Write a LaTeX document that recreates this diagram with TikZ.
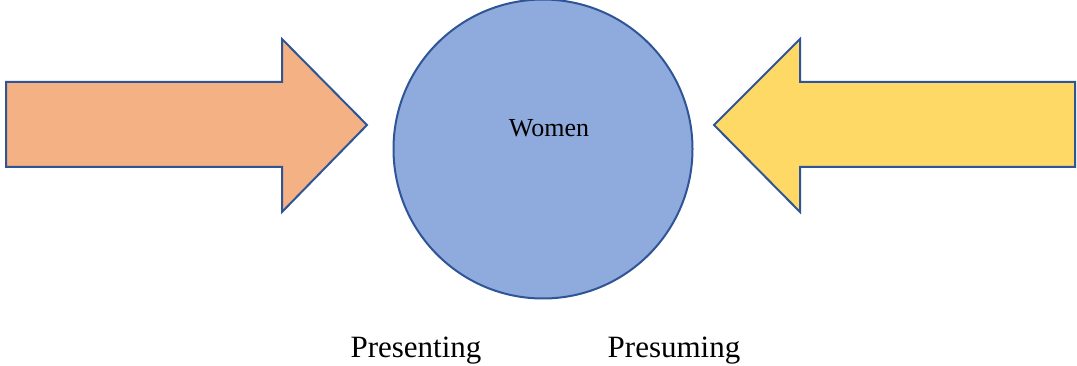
\documentclass[tikz,border=0pt]{standalone}
\usepackage{fontspec}
\setmainfont{Liberation Serif}
\definecolor{edgeblue}{HTML}{2F5597}
\definecolor{peach}{HTML}{F4B183}
\definecolor{skyblue}{HTML}{8FAADC}
\definecolor{gold}{HTML}{FFD966}
\tikzset{
  shapeline/.style={draw=edgeblue, line width=2pt, line join=miter},
  label/.style={font=\fontsize{31}{36}\selectfont, inner sep=0pt, anchor=base},
}
\begin{document}
\begin{tikzpicture}[x=1pt, y=-1pt]
  \useasboundingbox (0,0) rectangle (1077,366);
  % incoming arrow from the left
  \filldraw[shapeline, fill=peach]
    (6,82) -- (282,82) -- (282,39) -- (367,125) -- (282,212) -- (282,167) -- (6,167) -- cycle;
  % incoming arrow from the right
  \filldraw[shapeline, fill=gold]
    (1075,82) -- (800,82) -- (800,39) -- (714,125) -- (800,212) -- (800,167) -- (1075,167) -- cycle;
  % central circle
  \node[shapeline, fill=skyblue, circle, minimum size=299pt, inner sep=0pt] (women) at (543,149) {};
  \node[font=\fontsize{26}{30}\selectfont, inner sep=0pt, anchor=base] (wlabel) at (549,137) {Women};
  % captions
  \node[label] (presenting) at (416,357) {Presenting};
  \node[label] (presuming) at (674,357) {Presuming};
\end{tikzpicture}
\end{document}
